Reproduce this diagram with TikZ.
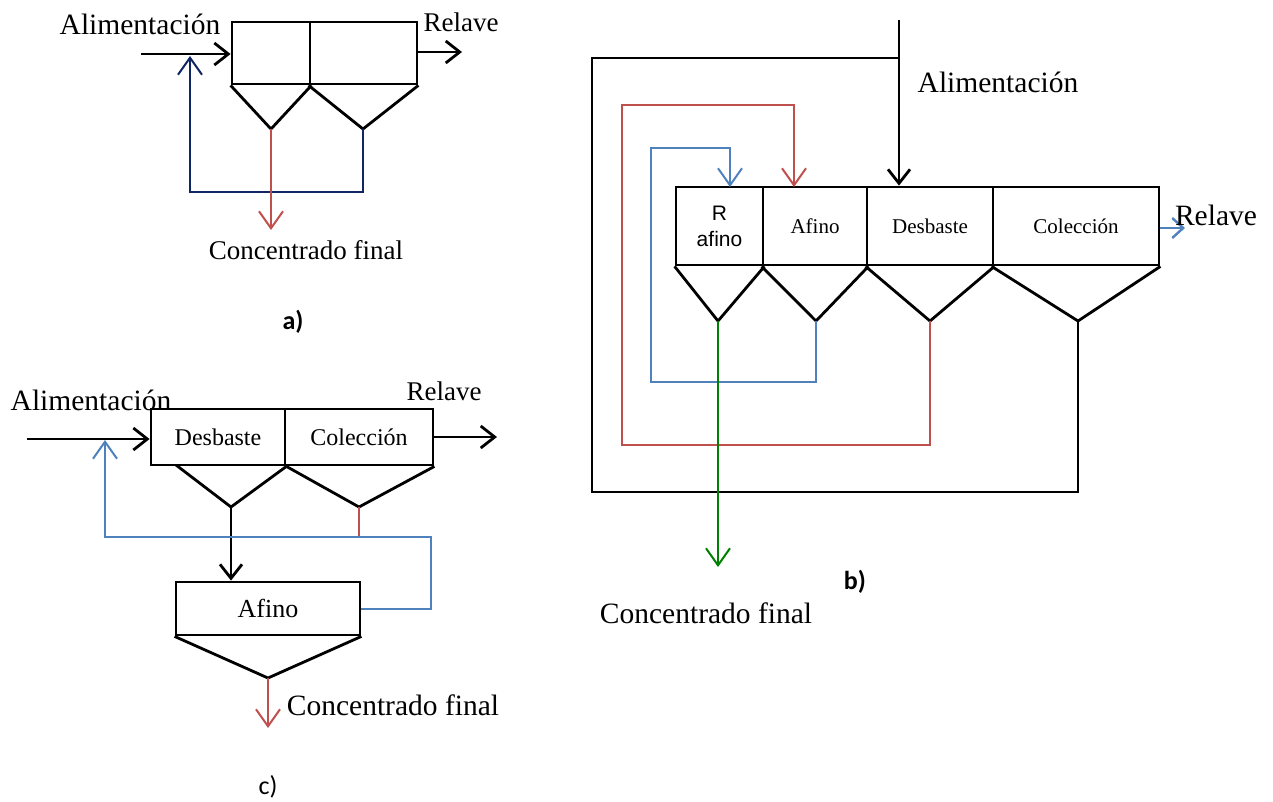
\documentclass[tikz,border=0pt]{standalone}
\usepackage{fontspec}
\setmainfont{Liberation Serif}
\newfontfamily\labelfont{Carlito}
\newfontfamily\cellsans{Liberation Sans}
\usetikzlibrary{arrows.meta, positioning}
\definecolor{recnavy}{RGB}{16,37,99}
\definecolor{concred}{RGB}{192,80,77}
\definecolor{recblue}{RGB}{79,129,189}
\definecolor{concgreen}{RGB}{0,128,0}
\tikzset{
  cell/.style={rectangle, draw, line width=2.8pt, inner sep=0pt,
    align=center, font=\fontsize{24}{26}\selectfont},
  smallcell/.style={cell, font=\fontsize{21}{23}\selectfont},
  hopper/.style={line width=2.8pt, line join=miter},
  flow/.style={-{Straight Barb[length=14pt, width=22pt]}, line width=2.8pt},
  pipe/.style={line width=2pt, -{Straight Barb[length=17pt, width=24pt]}},
  tag/.style={inner sep=0pt, font=\fontsize{27}{30}\selectfont},
  bigtag/.style={inner sep=0pt, font=\fontsize{29.5}{32}\selectfont},
  panel/.style={inner sep=0pt, font=\labelfont\fontsize{26}{28}\selectfont},
}
\begin{document}
\begin{tikzpicture}[x=1pt, y=-1pt]
  \useasboundingbox (0,0) rectangle (1273,801);

  % a) two cells, concentrate of the second back to feed
  \node[cell, minimum width=78pt, minimum height=62pt] (a1) at (271,53) {};
  \node[cell, minimum width=107pt, minimum height=62pt] (a2) at (363.5,53) {};
  \coordinate (a1tip) at (271,129);
  \coordinate (a2tip) at (363,129);
  \draw[hopper] (a1.south west) -- (a1tip) -- (a1.south east);
  \draw[hopper] (a2.south west) -- (a2tip) -- (a2.south east);
  \coordinate (afeed) at (141,54);
  \coordinate (aout) at (462,52);
  \draw[flow] (afeed) -- (afeed -| a1.west);
  \draw[flow] (aout -| a2.east) -- (aout);
  \draw[pipe, recnavy] (a2tip) -- (363,192) -- (190,192) -- (190,56);
  \draw[pipe, concred] (a1tip) -- (271,230);
  \node[bigtag] (afeedlbl) at (140,24) {Alimentación};
  \node[tag] (arellbl) at (461,22) {Relave};
  \node[tag] (aconclbl) at (306,250) {Concentrado final};
  \node[panel, font=\labelfont\bfseries\fontsize{26}{28}\selectfont] (alabel) at (293,322) {a)};

  % c) rougher / scavenger with cleaner
  \node[cell, minimum width=134pt, minimum height=56pt] (c1) at (218,437) {Desbaste};
  \node[cell, minimum width=148pt, minimum height=56pt] (c2) at (359,437) {Colección};
  \node[cell, minimum width=184pt, minimum height=53pt,
        font=\fontsize{26}{28}\selectfont] (c3) at (268,608.5) {Afino};
  \coordinate (c1tip) at (231,507);
  \coordinate (c2tip) at (359,507);
  \coordinate (c3tip) at (268,678);
  \draw[hopper] (176,465) -- (c1tip) -- (c1.south east);
  \draw[hopper] (c1.south east) -- (c2tip) -- (c2.south east);
  \draw[hopper] (c3.south west) -- (c3tip) -- (c3.south east);
  \coordinate (cfeed) at (27,439);
  \coordinate (cout) at (497,437);
  \draw[flow] (cfeed) -- (cfeed -| c1.west);
  \draw[flow] (cout -| c2.east) -- (cout);
  \draw[flow] (c1tip) -- (c1tip |- c3.north);
  \draw[pipe, -, concred] (c2tip) -- (359,537);
  \draw[pipe, recblue] (c3.east) -- (431,608.5) -- (431,537) -- (105,537) -- (105,440);
  \draw[pipe, concred] (c3tip) -- (268,728);
  \node[bigtag] (cfeedlbl) at (91,400) {Alimentación};
  \node[tag] (crellbl) at (444,391) {Relave};
  \node[bigtag] (cconclbl) at (393,705) {Concentrado final};
  \node[panel] (clabel) at (268,787) {c)};

  % b) four cells in a row with three recycles
  \node[smallcell, minimum width=87pt, minimum height=78pt,
        font=\cellsans\fontsize{21}{26}\selectfont] (b1) at (719.5,226) {R\\afino};
  \node[smallcell, minimum width=104pt, minimum height=78pt] (b2) at (815,226) {Afino};
  \node[smallcell, minimum width=126pt, minimum height=78pt] (b3) at (930,226) {Desbaste};
  \node[smallcell, minimum width=166pt, minimum height=78pt] (b4) at (1076,226) {Colección};
  \coordinate (b1tip) at (718,321);
  \coordinate (b2tip) at (816,321);
  \coordinate (b3tip) at (930,321);
  \coordinate (b4tip) at (1078,321);
  \draw[hopper] (b1.south west) -- (b1tip) -- (b1.south east);
  \draw[hopper] (b2.south west) -- (b2tip) -- (b2.south east);
  \draw[hopper] (b3.south west) -- (b3tip) -- (b3.south east);
  \draw[hopper] (b4.south west) -- (b4tip) -- (b4.south east);
  \coordinate (bfeed) at (899,20);
  \coordinate (bout) at (1185,228);
  \draw[flow] (bfeed) -- (bfeed |- b3.north);
  \draw[hopper] (b4tip) -- (1078,492) -- (592,492) -- (592,58) -- (899,58);
  \draw[pipe, concred] (b3tip) -- (930,445) -- (622,445) -- (622,105) -- (794,105) -- (794,187);
  \draw[pipe, recblue] (b2tip) -- (816,382) -- (651,382) -- (651,148) -- (730,148) -- (730,187);
  \draw[pipe, concgreen] (b1tip) -- (718,567);
  \draw[pipe, recblue, line width=2.4pt, -{Straight Barb[length=11pt, width=20pt]}] (b4.east |- bout) -- (bout);
  \node[bigtag] (bfeedlbl) at (998,82) {Alimentación};
  \node[bigtag] (brellbl) at (1216,215) {Relave};
  \node[bigtag] (bconclbl) at (706,613) {Concentrado final};
  \node[panel, font=\labelfont\bfseries\fontsize{26}{28}\selectfont] (blabel) at (855,582) {b)};
\end{tikzpicture}
\end{document}
